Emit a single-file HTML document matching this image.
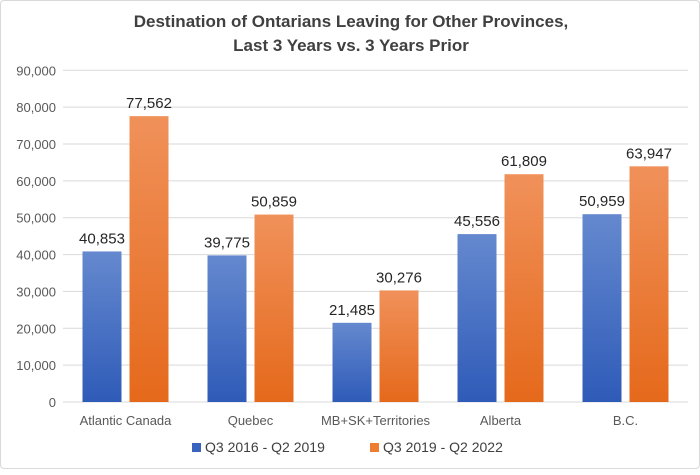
<!DOCTYPE html>
<html><head><meta charset="utf-8"><style>
body{margin:0;background:#fff;}
#wrap{position:absolute;left:0;top:0;width:698px;height:467px;border:1px solid #d9d9d9;border-radius:4px;background:#fff;}
svg text{font-family:"Liberation Sans",sans-serif;}
</style></head><body>
<div id="wrap">
<svg id="chart" width="700" height="469">
<defs>
<linearGradient id="gb" x1="0" y1="0" x2="0" y2="1"><stop offset="0" stop-color="#6589cf"/><stop offset="1" stop-color="#2f5bb8"/></linearGradient>
<linearGradient id="go" x1="0" y1="0" x2="0" y2="1"><stop offset="0" stop-color="#f0915a"/><stop offset="1" stop-color="#e5691b"/></linearGradient>
</defs>
<text x="350" y="26" text-anchor="middle" font-size="17" font-weight="bold" fill="#404040">Destination of Ontarians Leaving for Other Provinces,</text>
<text x="350" y="50" text-anchor="middle" font-size="17" font-weight="bold" fill="#404040">Last 3 Years vs. 3 Years Prior</text>
<g id="grid"></g><g id="bars"></g>
<g>
<rect x="191" y="442" width="9" height="9" fill="#3a63bd"/>
<text x="204" y="451" font-size="14" fill="#404040">Q3 2016 - Q2 2019</text>
<rect x="369" y="442" width="9" height="9" fill="#ee7d31"/>
<text x="382" y="451" font-size="14" fill="#404040">Q3 2019 - Q2 2022</text>
</g>
</svg></div>
<script>
const categories=["Atlantic Canada","Quebec","MB+SK+Territories","Alberta","B.C."];
const series2016=[40853,39775,21485,45556,50959];
const series2019=[77562,50859,30276,61809,63947];
const ticks=[0,10000,20000,30000,40000,50000,60000,70000,80000,90000];
const NS="http://www.w3.org/2000/svg";
const x0=62,band=125,yBase=401,yTop=69.3,vmax=90000;
const y=v=>yBase-(v/vmax)*(yBase-yTop);
const fmt=v=>v.toLocaleString("en-US");
function mk(t,a,p){const e=document.createElementNS(NS,t);for(const k in a)e.setAttribute(k,a[k]);p.appendChild(e);return e;}
const grid=document.getElementById("grid"),bars=document.getElementById("bars");
ticks.forEach(t=>{
 const l=mk("line",{x1:x0,x2:687,y1:y(t),y2:y(t),stroke:"#d9d9d9","stroke-width":1},grid);
 
 
 const tx=mk("text",{x:55,y:y(t)+5,"text-anchor":"end","font-size":"13",fill:"#595959"},grid);
 tx.textContent=fmt(t);
 
 
});
categories.forEach((c,i)=>{
 const cx=x0+band*i+band/2;
 [[series2016,"url(#gb)",cx-43],[series2019,"url(#go)",cx+4]].forEach(([s,f,bx],j)=>{
  const v=s[i];
  const r=mk("rect",{x:bx,y:y(v),width:39,height:yBase-y(v),fill:f},bars);
  
  
  const t=mk("text",{x:bx+19.5,y:y(v)-8,"text-anchor":"middle","font-size":"15",fill:"#262626"},bars);
  t.textContent=fmt(v);
  
  
 });
 const lab=mk("text",{x:cx,y:424,"text-anchor":"middle","font-size":"13",fill:"#595959"},bars);
 lab.textContent=c;
 
 
});
</script>
</body></html>
